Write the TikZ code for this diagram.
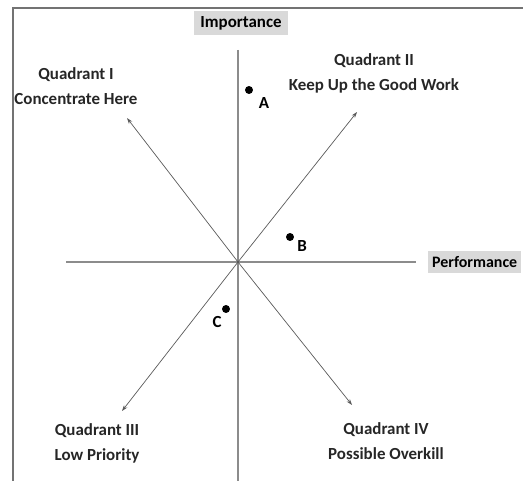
\documentclass[tikz,border=0pt]{standalone}
\usepackage{fontspec}
\setmainfont{Carlito}
\usetikzlibrary{arrows.meta}

\begin{document}
\begin{tikzpicture}[x=1bp, y=-1bp,
  font=\bfseries\fontsize{17}{25}\selectfont,
  axis/.style={black!45, line width=1.3pt},
  quadarrow/.style={black!65, line width=0.7pt, -{Stealth[length=6pt,width=4pt]}},
  axistag/.style={fill=black!15, inner xsep=6pt, inner ysep=5pt, font=\bfseries\fontsize{17}{20}\selectfont},
  quadtag/.style={align=center, text=black!85},
  dot/.style={circle, fill=black, inner sep=0pt, minimum size=8pt}]
  \useasboundingbox (0,0) rectangle (523,481);
  \clip (0,0) rectangle (523,481);
  \draw[black!55, line width=1.3pt] (523,8) -- (13,8) -- (13,481);
  % axes
  \coordinate (o) at (238,262);
  \coordinate (top) at (238,50);
  \coordinate (bottom) at (238,481);
  \coordinate (left) at (66,262);
  \coordinate (right) at (416,262);
  \draw[axis] (top) -- (bottom);
  \draw[axis] (left) -- (right);
  \node[axistag] (importance) at (241,23) {Importance};
  \node[axistag, anchor=west, inner xsep=4pt, font=\bfseries\fontsize{16}{20}\selectfont] (performance) at (428,262) {Performance};
  % quadrants
  \foreach \q/\x/\y/\tx/\ty/\sub in {I/76/86/127/118/Concentrate Here,
      II/374/73/357/112/Keep Up the Good Work,
      III/97/443/122/411/Low Priority,
      IV/386/441/352/405/Possible Overkill} {
    \coordinate (tip\q) at (\tx,\ty);
    \node[quadtag] (quad\q) at (\x,\y) {Quadrant \q\\\sub};
    \draw[quadarrow] (o) -- (tip\q);
  }
  % points
  \foreach \p/\x/\y/\lx/\ly in {A/249/90/264/103, B/290/237/302/246, C/226/309/217/322} {
    \node[dot] (pt\p) at (\x,\y) {};
    \node (lab\p) at (\lx,\ly) {\p};
  }
\end{tikzpicture}
\end{document}
